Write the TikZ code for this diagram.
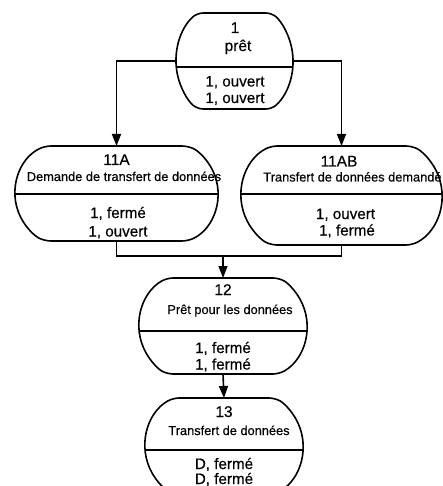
\documentclass[tikz,border=0pt]{standalone}
\usepackage{fontspec}
\setmainfont{Liberation Sans}
\newfontfamily\diagfont{Liberation Sans}[FakeBold=0.35]
\usetikzlibrary{arrows.meta}

% State box whose ends are circular arcs, with a divider line.
% #1 name, #2 left, #3 right, #4 top, #5 bottom, #6 divider, #7 end depth
\newcommand\drawstate[7]{%
  \pgfmathsetmacro\stCX{(#2+#3)/2}%
  \pgfmathsetmacro\stCY{(#4+#5)/2}%
  \pgfmathsetmacro\stW{#3-#2}%
  \pgfmathsetmacro\stH{#5-#4}%
  \pgfmathsetmacro\stRY{(#5-#4)/2}%
  \pgfmathsetmacro\stR{(\stRY*\stRY+#7*#7)/(2*#7)}%
  \pgfmathsetmacro\stTh{asin(\stRY/\stR)}%
  \pgfmathsetmacro\stOff{\stR-sqrt(\stR*\stR-(#6-\stCY)*(#6-\stCY))}%
  \node[statebody, minimum width=\stW pt, minimum height=\stH pt] (#1) at (\stCX,\stCY) {};
  \draw[outline] (\stCX,#4) -- (#2+#7,#4)
     arc[start angle=180-\stTh, end angle=180+\stTh, radius=\stR pt]
     -- (#3-#7,#5)
     arc[start angle=-\stTh, end angle=\stTh, radius=\stR pt]
     -- cycle;
  \draw[outline] (#2+\stOff,#6) -- (#3-\stOff,#6);
}

\tikzset{
  statebody/.style={draw=none, inner sep=0pt, outer sep=0pt},
  outline/.style={line width=1.6pt, line join=round, rounded corners=6pt},
  conn/.style={line width=1.6pt},
  arrowconn/.style={conn, -{Triangle[length=12pt,width=9pt]}},
  lab/.style={font=\diagfont\fontsize{15.5}{15.5}\selectfont, inner sep=0pt, anchor=base},
  desc/.style={font=\diagfont\fontsize{12.8}{12.8}\selectfont, inner sep=0pt, anchor=base},
  stateline/.style={font=\diagfont\fontsize{15.2}{15.2}\selectfont, inner sep=0pt, anchor=base},
}

\begin{document}
\begin{tikzpicture}[x=1pt, y=-1pt]
  \useasboundingbox (0,0) rectangle (443,486);
  \clip (0,0) rectangle (443,486);

  % state boxes
  \drawstate{n1}{176}{293}{13}{109}{67}{21}
  \drawstate{n11A}{15}{218}{146}{241}{194}{30}
  \drawstate{n11AB}{241}{442}{146}{245}{194}{30}
  \drawstate{n12}{139}{307}{278}{374}{331}{28}
  \drawstate{n13}{145}{303}{398}{494}{450}{28}

  % texts
  \node[lab] (t1a) at (235,33) {1};
  \node[lab] (t1b) at (238,51) {prêt};
  \node[stateline] (t1c) at (235,86.5) {1, ouvert};
  \node[stateline] (t1d) at (235,103) {1, ouvert};

  \node[lab] (t2a) at (116.5,165) {11A};
  \node[desc] (t2b) at (124,181) {Demande de transfert de données};
  \node[stateline] (t2c) at (118,218) {1, fermé};
  \node[stateline] (t2d) at (118,236.5) {1, ouvert};

  \node[lab] (t3a) at (339,166.5) {11AB};
  \node[desc] (t3b) at (352.5,181.5) {Transfert de données demandé};
  \node[stateline] (t3c) at (345.5,219) {1, ouvert};
  \node[stateline] (t3d) at (347,235.5) {1, fermé};

  \node[lab] (t4a) at (223,295) {12};
  \node[desc] (t4b) at (230,314) {Prêt pour les données};
  \node[stateline] (t4c) at (223,353) {1, fermé};
  \node[stateline] (t4d) at (223,369.5) {1, fermé};

  \node[lab] (t5a) at (224,417) {13};
  \node[desc] (t5b) at (229,435) {Transfert de données};
  \node[stateline] (t5c) at (224,469) {D, fermé};
  \node[stateline] (t5d) at (224,484) {D, fermé};

  % connectors
  \coordinate (m) at (225,256);
  \draw[arrowconn] (n1.west) -| (n11A.north);
  \draw[arrowconn] (n1.east) -| (n11AB.north);
  \draw[conn] (n11A.south) -- (n11A.south |- m) -- (n11AB.south |- m) -- (n11AB.south);
  \draw[arrowconn] (n12.north |- m) -- (n12.north);
  \draw[arrowconn] (n12.south) -- (n13.north);
\end{tikzpicture}
\end{document}
